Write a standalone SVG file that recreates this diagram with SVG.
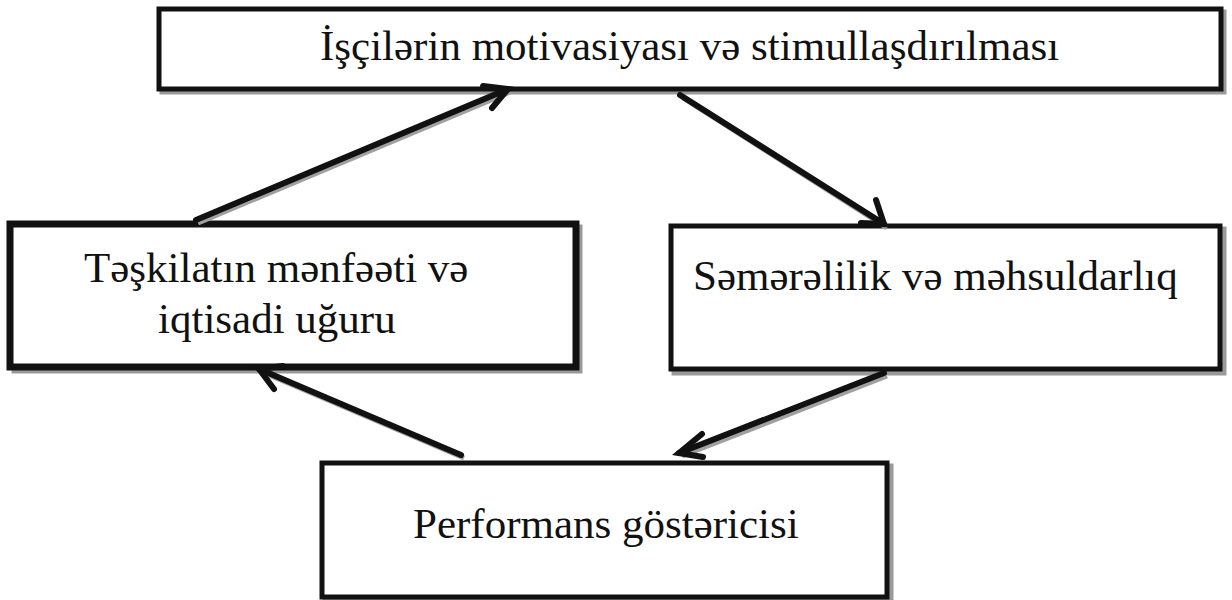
<svg xmlns="http://www.w3.org/2000/svg" width="1232" height="600" viewBox="0 0 1232 600">
<style>
.box{fill:#fff;stroke:#111;stroke-width:5}
.shadow{fill:none;stroke:#9a9a9a;stroke-width:5}
.t{font-family:"Liberation Serif","Times New Roman",serif;font-size:43px;fill:#111}
.cs{stroke:#a0a0a0;stroke-width:5;fill:none}
</style>
<rect width="1232" height="600" fill="#fff"/>
<g id="n1">
<rect class="shadow" x="162" y="12" width="1062" height="80"/>
<rect class="box" x="159" y="9" width="1062" height="80"/>
<text class="t" x="320" y="60">İşçilərin motivasiyası və stimullaşdırılması</text>
</g>
<g id="n2">
<rect class="shadow" x="14" y="227" width="566" height="144"/>
<rect class="box" x="10" y="224" width="566" height="143" style="stroke-width:7"/>
<text class="t" x="84" y="282">Təşkilatın mənfəəti və</text>
<text class="t" x="158" y="333">iqtisadi uğuru</text>
</g>
<g id="n3">
<rect class="shadow" x="674" y="229" width="550" height="144"/>
<rect class="box" x="671" y="226" width="549" height="143"/>
<text class="t" x="693" y="290">Səmərəlilik və məhsuldarlıq</text>
</g>
<g id="n4">
<rect class="shadow" x="325" y="466" width="566" height="135"/>
<rect class="box" x="322" y="463" width="565" height="134"/>
<text class="t" x="413" y="538">Performans göstəricisi</text>
</g>
<g id="connectors">
<line class="cs" x1="198" y1="223" x2="510" y2="92"/>
<line class="cs" x1="683" y1="98" x2="887" y2="228"/>
<line class="cs" x1="887" y1="376" x2="682" y2="456"/>
<line class="cs" x1="464" y1="458" x2="262" y2="372"/>
<g stroke="#111" stroke-width="6" fill="none" stroke-linecap="round" stroke-linejoin="miter">
<line x1="196" y1="220" x2="508" y2="89"/>
<polyline points="483,86 508,89 492,108"/>
<line x1="680" y1="95" x2="884" y2="224"/>
<polyline points="861,223 884,224 876,200"/>
<line x1="884" y1="373" x2="679" y2="453"/>
<polyline points="702,434 679,453 703,457"/>
<line x1="461" y1="455" x2="259" y2="369"/>
<polyline points="283,366 259,369 274,389"/>
</g>
</g>
</svg>
